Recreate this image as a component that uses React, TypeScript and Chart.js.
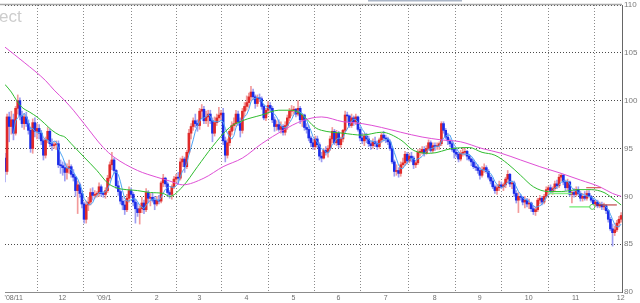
import React, { useEffect, useRef } from "react";
import { Chart, registerables } from "chart.js";

Chart.register(...registerables);

// Daily USD/JPY candles, bar index -5 = 2008/10/27, index 0 = 2008/11/03
const FIRST_BAR = -5;

const opens = [
  94.0, 92.6, 98.3, 97.3, 98.0,
  96.6, 99.2, 100.0, 98.4, 97.6, 98.3, 97.6, 96.9, 95.0, 97.7, 96.8, 97.1, 96.6, 95.8, 94.3, 95.9, 96.8, 95.5, 95.3, 95.4,
  95.5, 93.3, 93.2, 93.0, 92.5, 92.9, 93.1, 92.3, 92.0, 90.6, 91.2, 90.3, 89.2, 87.6, 89.1, 89.4, 90.4, 90.1, 90.2, 90.3, 91.0, 90.3, 90.2,
  90.6, 91.9, 93.3, 93.8, 92.7, 91.1, 90.5, 89.5, 89.1, 88.6, 89.8, 90.6, 90.2, 89.4, 88.7, 88.3, 88.7, 89.3, 88.6, 90.4, 89.8, 89.9,
  89.6, 89.2, 89.6, 89.5, 91.4, 91.9, 91.3, 90.4, 90.2, 91.0, 91.8, 92.0, 91.9, 93.6, 93.9, 93.1, 94.6, 96.6, 97.3, 97.9,
  97.6, 97.4, 98.9, 99.1, 97.9, 98.3, 98.6, 97.9, 96.6, 97.7, 98.2, 98.5, 98.7, 95.8, 94.3, 95.6, 96.8, 97.4, 97.6, 98.6, 97.8, 96.9,
  98.9, 99.4, 99.8, 100.4, 100.9, 100.4, 99.7, 100.3, 100.2, 99.4, 98.2, 99.0, 99.5, 99.2, 98.0, 97.3, 97.5, 97.0, 97.3, 96.7, 97.4, 98.2,
  98.9, 99.0, 99.1, 98.6, 99.2, 98.0, 98.5, 97.2, 97.0, 96.1, 95.6, 95.2, 96.0, 95.4, 94.2, 94.0, 94.8, 94.6, 95.0, 96.0, 96.8,
  95.6, 96.6, 95.4, 96.0, 96.9, 98.5, 98.4, 97.4, 98.2, 97.8, 98.3, 97.0, 96.1, 95.8, 96.3, 96.0, 95.5, 95.3, 95.7, 95.5, 95.2, 95.9,
  96.4, 96.1, 96.0, 95.7, 95.0, 93.6, 92.6, 92.7, 92.4, 93.3, 93.5, 94.4, 93.7, 94.2, 94.0, 93.3, 93.5, 94.6, 94.6, 94.9, 94.5, 95.0, 95.6,
  94.8, 95.3, 95.2, 95.3, 95.5, 97.6, 96.9, 96.2, 95.8, 95.5, 94.9, 94.6, 94.4, 93.9, 94.5, 94.6, 94.7, 94.2, 93.9, 93.6, 93.1,
  93.0, 92.7, 92.2, 92.8, 93.0, 92.6, 92.0, 91.6, 91.0, 90.6, 90.9, 91.2, 91.0, 91.2, 91.8, 92.3, 91.3, 91.4, 90.3, 89.6, 90.0, 89.9,
  89.4, 89.6, 89.2, 89.3, 88.7, 88.4, 88.6, 89.6, 89.8, 89.4, 90.0, 90.7, 90.9, 90.6, 90.8, 91.3, 91.1, 92.0, 92.2, 91.5, 90.9, 91.5,
  90.2, 90.4, 90.2, 90.7, 90.3, 89.8, 90.0, 89.8, 90.3, 90.0, 89.6, 89.2, 89.4, 89.0, 89.1, 88.9, 89.0, 88.5, 87.6, 86.6, 86.2,
  86.5, 87.2, 87.6,
];

const highs = [
  94.5, 98.6, 98.8, 98.9, 98.6,
  99.4, 100.6, 100.3, 98.9, 98.6, 98.8, 98.0, 97.2, 98.1, 98.2, 97.6, 97.5, 96.9, 96.0, 96.2, 97.2, 97.0, 96.0, 95.7, 95.8,
  95.8, 93.8, 93.6, 93.5, 93.4, 93.8, 93.3, 92.8, 92.1, 91.6, 91.4, 90.6, 89.4, 89.5, 89.9, 90.8, 90.9, 90.6, 90.5, 91.4, 91.2, 90.5, 90.9,
  92.2, 93.6, 94.6, 94.0, 92.8, 91.6, 90.7, 89.9, 89.6, 90.2, 91.0, 90.9, 90.4, 89.7, 89.3, 89.0, 89.9, 89.6, 90.8, 90.6, 90.3, 90.4,
  90.0, 90.0, 90.1, 91.6, 92.3, 92.0, 91.5, 90.6, 91.2, 92.1, 92.3, 92.5, 94.0, 94.2, 94.1, 94.8, 97.0, 97.6, 98.2, 98.6,
  98.0, 99.2, 99.6, 99.4, 98.9, 99.0, 99.0, 98.2, 98.3, 98.6, 99.3, 99.0, 99.2, 96.2, 96.0, 97.0, 97.8, 98.2, 99.0, 98.9, 98.2, 99.2,
  99.8, 100.5, 100.8, 101.5, 101.2, 100.6, 100.6, 100.7, 100.4, 99.6, 99.2, 99.9, 99.8, 99.4, 98.3, 97.9, 98.0, 97.8, 97.5, 97.8, 98.5, 99.2,
  99.5, 99.4, 99.2, 100.0, 99.4, 98.6, 98.6, 97.6, 97.4, 96.3, 96.0, 96.3, 96.3, 95.6, 94.6, 95.0, 95.2, 95.3, 96.3, 97.2, 97.0,
  96.9, 96.8, 96.2, 97.0, 98.9, 98.8, 98.5, 98.6, 98.4, 98.6, 98.4, 97.2, 96.6, 96.6, 96.6, 96.3, 95.8, 96.0, 96.2, 95.8, 96.1, 96.6,
  96.8, 96.4, 96.2, 95.9, 95.2, 93.8, 93.3, 93.0, 93.6, 94.0, 94.7, 94.6, 94.5, 94.6, 94.2, 93.7, 94.9, 95.0, 95.2, 95.2, 95.3, 95.9, 95.8,
  95.6, 95.6, 95.6, 95.7, 97.8, 97.8, 97.1, 96.6, 96.0, 95.7, 95.1, 94.9, 94.6, 94.8, 95.1, 95.0, 94.8, 94.4, 94.0, 93.8, 93.5,
  93.3, 93.0, 93.1, 93.4, 93.2, 92.8, 92.2, 91.9, 91.2, 91.2, 91.6, 91.5, 91.4, 92.0, 92.7, 92.4, 91.6, 91.6, 90.6, 90.4, 90.2, 90.0,
  90.0, 89.8, 89.7, 89.4, 89.0, 88.9, 89.8, 90.1, 90.0, 90.2, 91.0, 91.1, 91.2, 91.0, 91.6, 91.7, 92.3, 92.4, 92.3, 91.7, 91.8, 91.6,
  90.6, 90.8, 91.0, 91.0, 90.5, 90.3, 90.5, 90.6, 90.6, 90.1, 89.8, 89.6, 89.6, 89.4, 89.4, 89.3, 89.1, 88.6, 87.8, 87.1, 86.9,
  87.5, 87.9, 88.3,
];

const lows = [
  91.5, 92.3, 95.7, 96.5, 95.9,
  96.4, 98.6, 98.0, 97.2, 97.0, 97.3, 96.5, 94.6, 94.5, 96.2, 96.0, 96.0, 95.4, 93.8, 94.0, 95.6, 95.2, 94.8, 95.0, 94.9,
  93.0, 92.4, 92.2, 91.6, 91.8, 92.4, 92.0, 91.6, 90.0, 88.2, 89.9, 88.8, 87.2, 87.2, 88.5, 89.1, 89.6, 89.8, 89.9, 90.0, 90.0, 89.9, 89.8,
  90.4, 91.6, 92.8, 92.4, 90.8, 90.1, 89.2, 88.6, 88.1, 88.4, 89.4, 89.9, 89.0, 87.2, 87.9, 87.1, 88.3, 88.2, 88.4, 89.3, 89.0, 89.4,
  88.6, 89.0, 89.2, 89.3, 91.0, 91.0, 90.0, 89.8, 89.7, 90.8, 91.5, 91.3, 91.7, 93.1, 92.5, 92.9, 94.4, 96.0, 96.9, 97.2,
  96.8, 97.0, 98.2, 97.6, 97.6, 97.3, 97.6, 95.7, 96.3, 97.4, 97.8, 98.0, 95.4, 93.6, 94.0, 95.3, 96.4, 96.9, 97.3, 97.4, 96.2, 96.6,
  98.4, 99.0, 99.3, 100.0, 100.1, 99.2, 99.4, 99.9, 99.1, 98.0, 97.9, 98.6, 98.8, 97.7, 96.8, 96.9, 96.8, 96.6, 96.4, 96.4, 97.0, 97.9,
  98.4, 98.6, 98.3, 98.4, 97.6, 97.3, 96.9, 96.6, 95.8, 95.2, 94.9, 94.9, 95.1, 93.8, 93.6, 93.9, 94.3, 94.1, 94.8, 95.6, 95.4,
  95.3, 95.1, 95.1, 95.7, 96.7, 97.8, 97.2, 97.2, 97.4, 97.5, 96.8, 95.8, 95.5, 95.3, 95.6, 95.2, 94.9, 95.0, 95.2, 94.9, 95.0, 95.6,
  95.8, 95.6, 95.4, 94.8, 93.4, 92.1, 92.2, 92.0, 92.1, 93.0, 93.2, 93.4, 93.5, 93.6, 92.9, 93.0, 93.3, 94.2, 94.4, 94.2, 94.4, 94.8, 94.6,
  94.6, 94.8, 94.9, 94.9, 95.3, 96.6, 96.0, 95.4, 95.2, 94.7, 94.0, 94.1, 93.6, 93.7, 94.2, 94.3, 93.8, 93.7, 93.2, 92.9, 92.7,
  92.4, 91.8, 92.0, 92.5, 92.4, 91.8, 91.3, 90.8, 90.3, 90.2, 90.6, 90.8, 90.6, 90.9, 91.4, 91.0, 90.8, 90.0, 89.3, 88.3, 89.6, 89.1,
  88.8, 88.9, 88.7, 88.4, 88.1, 88.0, 88.4, 89.2, 89.1, 89.2, 89.8, 90.3, 90.4, 90.2, 90.6, 90.8, 90.9, 91.6, 91.2, 90.6, 90.7, 90.0,
  89.3, 89.9, 90.0, 90.1, 89.5, 89.5, 89.6, 89.6, 89.9, 89.4, 89.0, 88.9, 88.8, 88.8, 88.6, 88.6, 88.2, 87.3, 86.4, 84.8, 85.9,
  86.3, 86.8, 87.3,
];

const closes = [
  92.6, 98.3, 97.3, 98.0, 96.6,
  99.2, 100.0, 98.4, 97.6, 98.3, 97.6, 96.9, 95.0, 97.7, 96.8, 97.1, 96.6, 95.8, 94.3, 95.9, 96.8, 95.5, 95.3, 95.4, 95.5,
  93.3, 93.2, 93.0, 92.5, 92.9, 93.1, 92.3, 92.0, 90.6, 91.2, 90.3, 89.2, 87.6, 89.1, 89.4, 90.4, 90.1, 90.2, 90.3, 91.0, 90.3, 90.2, 90.6,
  91.9, 93.3, 93.8, 92.7, 91.1, 90.5, 89.5, 89.1, 88.6, 89.8, 90.6, 90.2, 89.4, 88.7, 88.3, 88.7, 89.3, 88.6, 90.4, 89.8, 89.9, 89.6,
  89.2, 89.6, 89.5, 91.4, 91.9, 91.3, 90.4, 90.2, 91.0, 91.8, 92.0, 91.9, 93.6, 93.9, 93.1, 94.6, 96.6, 97.3, 97.9, 97.6,
  97.4, 98.9, 99.1, 97.9, 98.3, 98.6, 97.9, 96.6, 97.7, 98.2, 98.5, 98.7, 95.8, 94.3, 95.6, 96.8, 97.4, 97.6, 98.6, 97.8, 96.9, 98.9,
  99.4, 99.8, 100.4, 100.9, 100.4, 99.7, 100.3, 100.2, 99.4, 98.2, 99.0, 99.5, 99.2, 98.0, 97.3, 97.5, 97.0, 97.3, 96.7, 97.4, 98.2, 98.9,
  99.0, 99.1, 98.6, 99.2, 98.0, 98.5, 97.2, 97.0, 96.1, 95.6, 95.2, 96.0, 95.4, 94.2, 94.0, 94.8, 94.6, 95.0, 96.0, 96.8, 95.6,
  96.6, 95.4, 96.0, 96.9, 98.5, 98.4, 97.4, 98.2, 97.8, 98.3, 97.0, 96.1, 95.8, 96.3, 96.0, 95.5, 95.3, 95.7, 95.5, 95.2, 95.9, 96.4,
  96.1, 96.0, 95.7, 95.0, 93.6, 92.6, 92.7, 92.4, 93.3, 93.5, 94.4, 93.7, 94.2, 94.0, 93.3, 93.5, 94.6, 94.6, 94.9, 94.5, 95.0, 95.6, 94.8,
  95.3, 95.2, 95.3, 95.5, 97.6, 96.9, 96.2, 95.8, 95.5, 94.9, 94.6, 94.4, 93.9, 94.5, 94.6, 94.7, 94.2, 93.9, 93.6, 93.1, 93.0,
  92.7, 92.2, 92.8, 93.0, 92.6, 92.0, 91.6, 91.0, 90.6, 90.9, 91.2, 91.0, 91.2, 91.8, 92.3, 91.3, 91.4, 90.3, 89.6, 90.0, 89.9, 89.4,
  89.6, 89.2, 89.3, 88.7, 88.4, 88.6, 89.6, 89.8, 89.4, 90.0, 90.7, 90.9, 90.6, 90.8, 91.3, 91.1, 92.0, 92.2, 91.5, 90.9, 91.5, 90.2,
  90.4, 90.2, 90.7, 90.3, 89.8, 90.0, 89.8, 90.3, 90.0, 89.6, 89.2, 89.4, 89.0, 89.1, 88.9, 89.0, 88.5, 87.6, 86.6, 86.2, 86.5,
  87.2, 87.6, 88.0,
];

// Month boundaries (bar index of first trading day) and their tick labels
const monthStarts = [0, 20, 43, 65, 85, 107, 129, 150, 172, 195, 216, 238, 260, 281];
const monthLabels = ["'08/11", "12", "'09/1", "2", "3", "4", "5", "6", "7", "8", "9", "10", "11", "12"];
const yTickValues = [80, 85, 90, 95, 100, 105, 110];

// Medium moving average (green)
const maMidIndex = [-5, -2, 0.5, 3, 6.6, 10, 13.6, 17, 20.5, 23, 26, 32, 38, 43, 47, 57, 63, 69, 72, 78, 85, 92, 100, 106, 115, 123, 129, 134, 140, 143, 153, 162, 171, 180, 186, 194, 204, 212, 218, 224, 230, 236, 242, 249, 255, 263, 269, 275, 279, 283];
const maMidValue = [101.7, 100.9, 100.0, 99.3, 98.8, 98.3, 97.6, 96.9, 96.4, 96.2, 95.5, 94.1, 92.7, 91.4, 90.9, 90.6, 90.4, 90.3, 90.0, 91.0, 93.1, 95.2, 97.2, 97.9, 98.5, 99.0, 99.0, 98.5, 97.2, 96.9, 96.6, 96.4, 96.7, 95.9, 94.8, 94.5, 95.0, 95.1, 94.6, 94.3, 93.4, 92.2, 91.0, 90.5, 90.5, 90.7, 90.7, 90.4, 89.8, 89.1];

// Long moving average (magenta)
const maLongIndex = [-5, 4, 14, 18, 23, 27, 32, 41, 46, 57, 66, 72, 78, 88, 97, 106, 115, 125, 134, 143, 153, 162, 171, 180, 190, 199, 208, 218, 227, 236, 245, 255, 264, 273, 279, 283];
const maLongValue = [105.6, 104.0, 102.1, 101.1, 100.0, 99.0, 97.6, 95.1, 94.1, 92.7, 92.0, 91.6, 91.2, 91.9, 93.1, 94.0, 95.5, 96.9, 97.9, 98.3, 97.8, 97.6, 97.2, 96.7, 96.2, 95.9, 95.7, 95.0, 94.5, 93.8, 93.1, 92.4, 91.7, 91.0, 90.3, 90.0];

// Horizontal level lines drawn near the end of the chart
const levelStart = [249, 258.8, 266.7, 271];
const levelEnd = [260, 269.5, 273.5, 281];
const levelValue = [90.3, 88.9, 90.9, 89.1];

const SHORT_MA = 5;

export default function App() {
  const ref = useRef<HTMLCanvasElement | null>(null);

  useEffect(() => {
    document.body.style.margin = "0";
    const canvas = ref.current;
    if (!canvas) return;

    const idx = (i: number) => FIRST_BAR + i;
    const up = closes.map((c, i) => c >= opens[i]);
    const wickData = highs.map((h, i) => ({ x: idx(i), y: [lows[i], h] }));
    const bodyData = closes.map((c, i) => ({ x: idx(i), y: [opens[i], c] }));
    const shortMa: { x: number; y: number }[] = [];
    for (let i = SHORT_MA - 1; i < closes.length; i++) {
      let s = 0;
      for (let k = 0; k < SHORT_MA; k++) s += closes[i - k];
      shortMa.push({ x: idx(i), y: s / SHORT_MA });
    }
    const midData = maMidIndex.map((x, i) => ({ x, y: maMidValue[i] }));
    const longData = maLongIndex.map((x, i) => ({ x, y: maLongValue[i] }));
    const level = (k: number) => [
      { x: levelStart[k], y: levelValue[k] },
      { x: levelEnd[k], y: levelValue[k] },
    ];

    const FONT = '"Liberation Sans", Arial, sans-serif';

    const decorPlugin = {
      id: "decor",
      beforeDraw(chart: any) {
        const { ctx } = chart;
        ctx.save();
        ctx.fillStyle = "#ffffff";
        ctx.fillRect(0, 0, chart.width, chart.height);
        ctx.fillStyle = "#cdcdcd";
        ctx.font = `17px ${FONT}`;
        ctx.textBaseline = "alphabetic";
        ctx.textAlign = "left";
        ctx.fillText("ect", -1, 22);
        ctx.fillStyle = "#a9b4c6";
        ctx.fillRect(368, 0, 94, 1.5);
        ctx.restore();
      },
      beforeDatasetsDraw(chart: any) {
        const { ctx, chartArea, scales } = chart;
        const yTop = scales.y.getPixelForValue(110);
        ctx.save();
        ctx.strokeStyle = "#a8a8a8";
        ctx.lineWidth = 1.5;
        ctx.beginPath();
        ctx.moveTo(0, yTop - 0.5);
        ctx.lineTo(chartArea.right, yTop - 0.5);
        ctx.stroke();
        ctx.restore();
      },
      afterDraw(chart: any) {
        const { ctx, chartArea, scales } = chart;
        ctx.save();
        ctx.font = `7px ${FONT}`;
        ctx.fillStyle = "#6e6e6e";
        ctx.textBaseline = "middle";
        ctx.textAlign = "left";
        monthLabels.forEach((lab, i) => {
          const px = scales.x.getPixelForValue(monthStarts[i]);
          const slash = lab.lastIndexOf("/");
          const prefix = slash >= 0 ? lab.slice(0, slash + 1) : "";
          let left = px - ctx.measureText(prefix).width;
          if (left < 1) left = 1;
          ctx.fillText(lab, left, chartArea.bottom + 6);
        });
        ctx.restore();
      },
    };

    const chart = new Chart(canvas, {
      type: "bar",
      data: {
        datasets: [
          {
            type: "bar",
            label: "range",
            data: wickData as any,
            backgroundColor: up.map((u) => (u ? "#f29a9a" : "#9d9df2")),
            barThickness: 1,
            grouped: false,
            order: 6,
          },
          {
            type: "bar",
            label: "body",
            data: bodyData as any,
            backgroundColor: up.map((u) => (u ? "#e02a2a" : "#1b2de8")),
            barThickness: 2,
            minBarLength: 1,
            grouped: false,
            order: 5,
          },
          {
            type: "line",
            label: "short",
            data: shortMa as any,
            borderColor: "#4ea4f4",
            borderWidth: 1,
            pointRadius: 0,
            order: 4,
          },
          {
            type: "line",
            label: "mid",
            data: midData as any,
            borderColor: "#2fbd2f",
            borderWidth: 1,
            pointRadius: 0,
            cubicInterpolationMode: "monotone",
            order: 3,
          },
          {
            type: "line",
            label: "long",
            data: longData as any,
            borderColor: "#df4fd6",
            borderWidth: 1,
            pointRadius: 0,
            cubicInterpolationMode: "monotone",
            order: 2,
          },
          {
            type: "line",
            label: "lvl0",
            data: level(0) as any,
            borderColor: "#86ee86",
            borderWidth: 1.5,
            pointRadius: 0,
            order: 1,
          },
          {
            type: "line",
            label: "lvl1",
            data: level(1) as any,
            borderColor: "#86ee86",
            backgroundColor: "#ffffff",
            borderWidth: 1.5,
            pointRadius: [0, 2.5],
            pointBorderColor: "#55cc55",
            pointBorderWidth: 1,
            order: 1,
          },
          {
            type: "line",
            label: "lvl2",
            data: level(2) as any,
            borderColor: "#d43a3a",
            borderWidth: 1,
            pointRadius: 0,
            order: 1,
          },
          {
            type: "line",
            label: "lvl3",
            data: level(3) as any,
            borderColor: "#b02424",
            borderWidth: 1,
            pointRadius: 0,
            order: 1,
          },
        ],
      },
      options: {
        responsive: false,
        animation: false,
        events: [],
        layout: { padding: { top: 4, left: 0, right: 0, bottom: 0 } },
        plugins: {
          legend: { display: false },
          tooltip: { enabled: false },
        },
        scales: {
          x: {
            type: "linear",
            min: -4.96,
            max: 283.41,
            offset: false,
            afterBuildTicks: (s: any) => {
              s.ticks = monthStarts.map((v) => ({ value: v }));
            },
            ticks: { display: false },
            grid: { color: "#8a8a8a", drawTicks: false, lineWidth: 1 },
            border: { display: true, color: "#8c8c8c", width: 1, dash: [1, 2] },
            afterFit: (s: any) => {
              s.height = 11;
              s.paddingLeft = 0;
              s.paddingRight = 0;
            },
          },
          y: {
            type: "linear",
            position: "right",
            min: 80,
            max: 110,
            afterBuildTicks: (s: any) => {
              s.ticks = yTickValues.map((v) => ({ value: v }));
            },
            ticks: {
              font: { family: FONT, size: 8 },
              color: "#7a7a7a",
              padding: 2,
              callback: (v: any) => String(v),
            },
            grid: { color: "#4a4a4a", drawTicks: false, lineWidth: 1 },
            border: { display: true, color: "#666666", width: 1, dash: [1, 2] },
            afterFit: (s: any) => {
              s.width = 18;
              s.paddingTop = 0;
              s.paddingBottom = 0;
            },
          },
        },
      },
      plugins: [decorPlugin],
    } as any);

    return () => chart.destroy();
  }, []);

  return (
    <canvas
      ref={ref}
      width={640}
      height={303}
      style={{ display: "block", width: 640, height: 303 }}
    />
  );
}
